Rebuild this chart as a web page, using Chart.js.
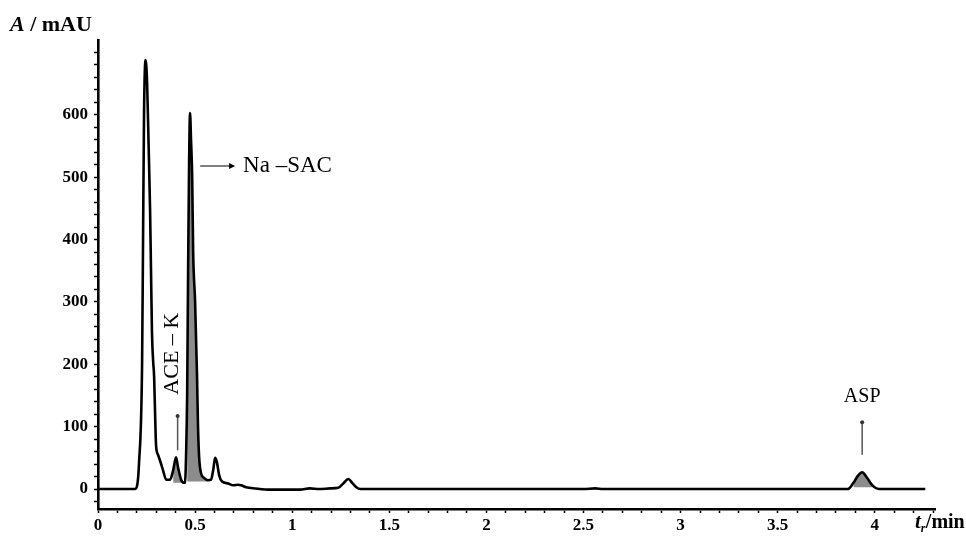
<!DOCTYPE html>
<html>
<head>
<meta charset="utf-8">
<script src="https://cdn.jsdelivr.net/npm/chart.js@4.4.1/dist/chart.umd.min.js"></script>
<style>
  html, body { margin: 0; padding: 0; background: #fff; }
  #wrap { width: 966px; height: 536px; position: relative; }
</style>
</head>
<body>
<div id="wrap"><canvas id="chrom"></canvas></div>
<script>
// retention time (min) and absorbance (mAU)
const timeMin = [0, 0.19, 0.201, 0.211, 0.227, 0.232, 0.237, 0.245, 0.253, 0.260, 0.268, 0.273,
  0.278, 0.284, 0.289, 0.294, 0.299, 0.309, 0.320, 0.335, 0.351, 0.371, 0.387, 0.402, 0.412,
  0.428, 0.443, 0.448, 0.454, 0.459, 0.464, 0.469, 0.474, 0.479, 0.485, 0.490, 0.500, 0.510,
  0.515, 0.521, 0.531, 0.546, 0.567, 0.582, 0.593, 0.603, 0.613, 0.624, 0.639, 0.670, 0.696,
  0.722, 0.737, 0.763, 0.81, 0.887, 1.04, 1.09, 1.14, 1.196, 1.237, 1.263, 1.289, 1.309, 1.33,
  1.351, 1.6, 2.0, 2.5, 2.56, 2.6, 3.0, 3.5, 3.86, 3.89, 3.91, 3.935, 3.96, 3.99, 4.02, 4.05, 4.26];
const absorb = [0, 0, 5, 40, 200, 400, 600, 688, 650, 560, 450, 350,
  250, 205, 180, 120, 70, 55, 45, 30, 15, 15, 30, 51, 35,
  15, 10, 10, 60, 150, 350, 520, 603, 560, 500, 380, 300, 180,
  100, 50, 25, 18, 14, 15, 30, 50, 42, 22, 12, 9, 6,
  7, 6, 3, 1, -1, -1, 1, 0, 1, 2, 9, 16, 10, 3,
  0, 0, 0, 0, 1, 0, 0, 0, 0, 10, 20, 27, 18, 5, 0, 0, 0];

// shaded peaks: [from, to, base]
const peakAreas = [[0.385, 0.44, 10], [0.455, 0.57, 12], [3.88, 3.99, 3]];

const yTicks = [-20, 0, 20, 40, 60, 80, 100, 120, 140, 160, 180, 200, 220, 240, 260, 280, 300,
  320, 340, 360, 380, 400, 420, 440, 460, 480, 500, 520, 540, 560, 580, 600, 620, 640, 660, 680, 700];
const yLabels = [0, 100, 200, 300, 400, 500, 600];
const xTicks = [];
for (let i = 0; i <= 43; i++) xTicks.push(i / 10);
const xLabels = [0, 0.5, 1, 1.5, 2, 2.5, 3, 3.5, 4];

const points = timeMin.map((t, i) => ({ x: t, y: absorb[i] }));

const fillSets = peakAreas.map(([a, b, base]) => ({
  data: points.filter(p => p.x >= a && p.x <= b),
  showLine: true,
  borderWidth: 0,
  pointRadius: 0,
  cubicInterpolationMode: 'monotone',
  backgroundColor: '#8c8c8c',
  fill: { value: base },
  order: 2
}));

// peak labels
const notes = [
  { type: 'arrowRight', x1: 0.526, x2: 0.706, y: 518, text: 'Na \u2013SAC', tx: 0.747, font: '23px "Liberation Serif"' },
  { type: 'marker', x: 0.41, y1: 62, y2: 117, text: 'ACE \u2013 K', tx: 0.382, ty: 217, rotate: true, font: '22px "Liberation Serif"' },
  { type: 'marker', x: 3.935, y1: 55, y2: 107, text: 'ASP', tx: 3.935, ty: 140, font: '20px "Liberation Serif"' }
];

const labelPlugin = {
  id: 'labels',
  afterDraw(chart) {
    const { ctx, scales: { x, y } } = chart;
    ctx.save();
    ctx.fillStyle = '#000';
    ctx.strokeStyle = '#555';
    notes.forEach(n => {
      ctx.font = n.font;
      if (n.type === 'arrowRight') {
        const py = y.getPixelForValue(n.y);
        const p1 = x.getPixelForValue(n.x1), p2 = x.getPixelForValue(n.x2);
        ctx.lineWidth = 1.5;
        ctx.beginPath(); ctx.moveTo(p1, py); ctx.lineTo(p2 - 3, py); ctx.stroke();
        ctx.beginPath(); ctx.moveTo(p2, py); ctx.lineTo(p2 - 6, py - 3); ctx.lineTo(p2 - 6, py + 3); ctx.closePath(); ctx.fill();
        ctx.textAlign = 'left'; ctx.textBaseline = 'middle';
        ctx.fillText(n.text, x.getPixelForValue(n.tx), py);
      } else {
        const px = x.getPixelForValue(n.x);
        ctx.lineWidth = 1.5;
        ctx.beginPath();
        ctx.moveTo(px, y.getPixelForValue(n.y1));
        ctx.lineTo(px, y.getPixelForValue(n.y2));
        ctx.stroke();
        ctx.beginPath(); ctx.arc(px, y.getPixelForValue(n.y2), 2, 0, Math.PI * 2); ctx.fillStyle = '#333'; ctx.fill();
        ctx.fillStyle = '#000';
        const tx = x.getPixelForValue(n.tx), ty = y.getPixelForValue(n.ty);
        if (n.rotate) {
          ctx.translate(tx, ty); ctx.rotate(-Math.PI / 2);
          ctx.textAlign = 'center'; ctx.textBaseline = 'middle';
          ctx.fillText(n.text, 0, 0);
          ctx.setTransform(1, 0, 0, 1, 0, 0);
        } else {
          ctx.textAlign = 'center'; ctx.textBaseline = 'alphabetic';
          ctx.fillText(n.text, tx, ty);
        }
      }
    });

    // axis titles
    ctx.textBaseline = 'alphabetic'; ctx.textAlign = 'left';
    ctx.font = 'italic bold 22px "Liberation Serif"';
    ctx.fillText('A', 10, 31);
    let w = ctx.measureText('A').width;
    ctx.font = 'bold 22px "Liberation Serif"';
    ctx.fillText(' / mAU', 10 + w, 31);

    ctx.font = 'italic bold 21px "Liberation Serif"';
    ctx.fillText('t', 915, 528);
    w = ctx.measureText('t').width;
    ctx.font = 'italic bold 12px "Liberation Serif"';
    ctx.fillText('r', 915 + w, 532);
    ctx.font = 'bold 20px "Liberation Serif"';
    ctx.fillText('/min', 915 + w + 5, 528);
    ctx.restore();
  }
};

new Chart(document.getElementById('chrom'), {
  type: 'scatter',
  data: {
    datasets: [{
      data: points,
      showLine: true,
      borderColor: '#000',
      borderWidth: 2.6,
      pointRadius: 0,
      cubicInterpolationMode: 'monotone',
      fill: false,
      order: 1
    }, ...fillSets]
  },
  options: {
    responsive: true,
    maintainAspectRatio: false,
    animation: false,
    layout: { padding: { top: 40, right: 31, left: 0, bottom: 0 } },
    plugins: { legend: { display: false }, tooltip: { enabled: false } },
    scales: {
      x: {
        type: 'linear',
        min: 0,
        max: 4.31,
        afterBuildTicks: s => { s.ticks = xTicks.map(v => ({ value: v })); },
        afterFit: s => { s.height = 27; },
        border: { color: '#000', width: 2.6 },
        grid: { drawOnChartArea: false, tickLength: 4, tickColor: '#000', tickWidth: 1.5 },
        ticks: {
          autoSkip: false,
          maxRotation: 0,
          padding: 2,
          color: '#000',
          font: { family: '"Liberation Serif"', weight: 'bold', size: 17 },
          callback: v => xLabels.some(l => Math.abs(l - v) < 1e-6) ? String(+v.toFixed(1)) : ''
        }
      },
      y: {
        min: -32,
        max: 720,
        afterBuildTicks: s => { s.ticks = yTicks.map(v => ({ value: v })); },
        afterFit: s => { s.width = 98; },
        border: { color: '#000', width: 2.6 },
        grid: { drawOnChartArea: false, tickLength: 4, tickColor: '#000', tickWidth: 1.5 },
        ticks: {
          autoSkip: false,
          padding: 6,
          color: '#000',
          font: { family: '"Liberation Serif"', weight: 'bold', size: 17 },
          callback: v => yLabels.includes(v) ? String(v) : ''
        }
      }
    }
  },
  plugins: [labelPlugin]
});
</script>
</body>
</html>
